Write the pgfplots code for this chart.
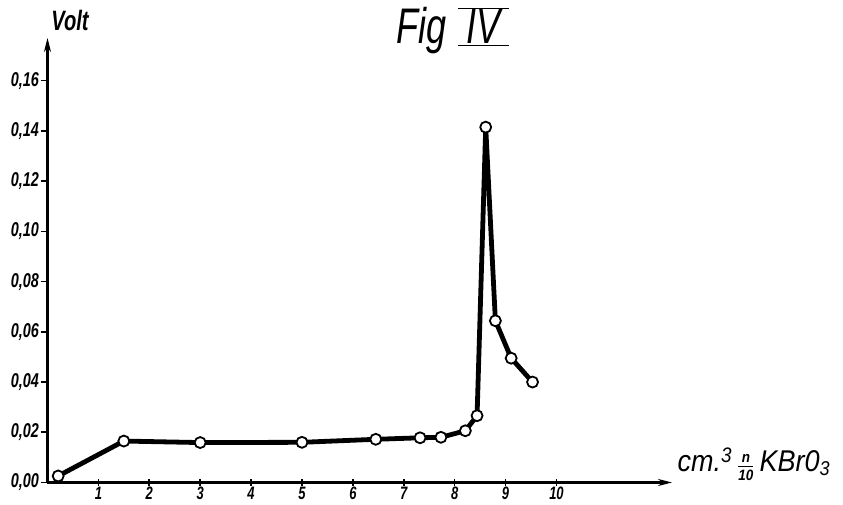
\documentclass[border=0pt]{standalone}
\usepackage{fontspec}
\setmainfont{Liberation Sans}[FakeStretch=0.72]
\newfontfamily\labfont{Liberation Sans}[FakeStretch=0.9]
\usepackage{pgfplots}
\pgfplotsset{compat=1.18}
\usetikzlibrary{arrows.meta}
\begin{document}
\begin{tikzpicture}
\begin{axis}[
  scale only axis,
  width=624.5pt, height=444.5pt,
  xmin=0, xmax=12.27, ymin=0, ymax=0.177,
  axis lines=left,
  axis line style={line width=2.2pt, -{Stealth[length=14pt,width=7pt]}},
  xtick={1,2,3,4,5,6,7,8,9,10},
  ytick={0,0.02,0.04,0.06,0.08,0.10,0.12,0.14,0.16},
  tick style={line width=1.6pt, black},
  major tick length=7pt,
  xtick align=center,
  ytick align=outside,
  tick label style={font=\fontsize{20}{21}\selectfont\itshape\bfseries},
  y tick label style={xshift=2pt, /pgf/number format/fixed, /pgf/number format/fixed zerofill, /pgf/number format/precision=2, /pgf/number format/use comma, /pgf/number format/assume math mode=true},
  x tick label style={yshift=0pt, inner sep=1pt, font=\fontsize{18}{19}\selectfont\itshape\bfseries, /pgf/number format/assume math mode=true},
  clip=false,
]
\addplot[black, line width=4.8pt, mark=*, mark size=5.5pt,
  mark options={fill=white, draw=black, line width=1.8pt, solid}]
coordinates {
(0.21,0.0026) (1.50,0.0165) (3.0,0.0159) (5.0,0.0160) (6.45,0.0172)
(7.32,0.0178) (7.73,0.0180) (8.21,0.0206) (8.44,0.0266) (8.61,0.1415)
(8.80,0.0644) (9.11,0.0495) (9.53,0.040)
};
\end{axis}
\node[font=\fontsize{28}{30}\selectfont\itshape\bfseries] at (22.5pt,462pt) {Volt};
\node[font=\fontsize{50}{52}\selectfont\itshape] at (405pt,452pt) {Fig\hspace{12pt}$\overline{\underline{\mbox{\itshape\,IV\,}}}$};
\node[anchor=west, font=\fontsize{30}{32}\selectfont\labfont\itshape, inner sep=0pt] at (630pt,18pt)
  {cm.\textsuperscript{3}\,$\frac{\mbox{\fontsize{15}{15}\selectfont\labfont\itshape\bfseries n}}{\mbox{\fontsize{15}{15}\selectfont\labfont\itshape\bfseries 10}}$\,KBr0\raisebox{-4pt}{\fontsize{20}{20}\selectfont 3}};
\pgfresetboundingbox
\path (-47.5pt,-22.5pt) rectangle (795.5pt,482.5pt);
\end{tikzpicture}
\end{document}
